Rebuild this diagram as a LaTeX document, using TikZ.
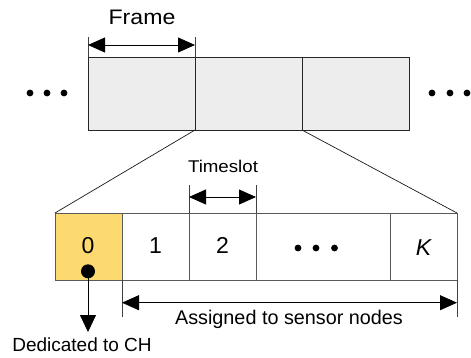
\documentclass[tikz,border=0pt]{standalone}
\usepackage{fontspec}
\setmainfont{Liberation Sans}
\newfontfamily\widesans{Liberation Sans}[FakeStretch=1.1]
\usetikzlibrary{arrows.meta,calc}
\definecolor{framegray}{HTML}{EDEDED}
\definecolor{slotyellow}{HTML}{FDDA70}
\begin{document}
\begin{tikzpicture}[x=1pt,y=-1pt,
  frm/.style={draw=black!85, fill=framegray, line width=0.9pt, minimum width=107pt, minimum height=73pt, inner sep=0pt, outer sep=0pt},
  slot/.style={draw=black!65, line width=0.9pt, minimum height=67pt, inner sep=0pt, outer sep=0pt},
  digit/.style={anchor=base, inner sep=0pt, font=\fontsize{23}{27}\selectfont},
  dimarrow/.style={{Triangle[length=17pt,width=15pt]}-{Triangle[length=17pt,width=15pt]}, line width=0.8pt},
  onearrow/.style={-{Triangle[length=17pt,width=16pt]}, line width=0.8pt},
  ext/.style={line width=0.9pt, draw=black!75},
  zoomline/.style={line width=0.7pt, draw=black!90},
  bigdot/.style={circle, fill=black, inner sep=0pt, minimum size=6.8pt},
  lbl/.style={anchor=base, inner sep=0pt}
]
\useasboundingbox (0,0) rectangle (471,357);

% frames
\node[frm] (f1) at (141.5,93.5) {};
\node[frm] (f2) at (248.5,93.5) {};
\node[frm] (f3) at (356,93.5) {};

% side dots
\node[bigdot] (dl1) at (30,93) {};
\node[bigdot] (dl2) at (47,93) {};
\node[bigdot] (dl3) at (64,93) {};
\node[bigdot] (dr1) at (432,93) {};
\node[bigdot] (dr2) at (450,93) {};
\node[bigdot] (dr3) at (467,93) {};

% frame dimension
\draw[ext] (f1.north west) -- ++(0,-20) coordinate (fe1);
\draw[ext] (f1.north east) -- ++(0,-20) coordinate (fe2);
\coordinate (fa1) at ($(f1.north west)+(0,-12)$);
\coordinate (fa2) at ($(f1.north east)+(0,-12)$);
\draw[dimarrow] (fa1) -- (fa2);
\node[lbl, font=\widesans\fontsize{21}{25}\selectfont] (frametxt) at (142,24) {Frame};

% slots
\node[slot, fill=slotyellow, minimum width=67pt] (s0) at (88.5,246.5) {};
\node[slot, minimum width=67pt] (s1) at (155.5,246.5) {};
\node[slot, minimum width=67pt] (s2) at (222.5,246.5) {};
\node[slot, minimum width=134pt] (s3) at (323,246.5) {};
\node[slot, minimum width=67pt] (sK) at (423.5,246.5) {};
\node[digit] (t0) at (88,253.8) {0};
\node[digit] (t1) at (155.5,253.8) {1};
\node[digit] (t2) at (222.5,253.8) {2};
\node[digit, font=\fontsize{23}{27}\selectfont\itshape] (tK) at (423.5,255.5) {K};
\node[bigdot] (md1) at (298,248) {};
\node[bigdot] (md2) at (316,248) {};
\node[bigdot] (md3) at (334.5,248) {};

% zoom lines
\draw[zoomline] (f1.south east) -- (s0.north west);
\draw[zoomline] (f2.south east) -- (sK.north east);

% timeslot dimension
\draw[ext] (s2.north west) -- ++(0,-28) coordinate (te1);
\draw[ext] (s2.north east) -- ++(0,-28) coordinate (te2);
\coordinate (ta1) at ($(s2.north west)+(0,-16)$);
\coordinate (ta2) at ($(s2.north east)+(0,-16)$);
\draw[dimarrow] (ta1) -- (ta2);
\node[lbl, font=\widesans\fontsize{17}{20}\selectfont] (tstxt) at (223,172.7) {Timeslot};

% assigned dimension
\draw[ext] (s1.south west) -- ++(0,37) coordinate (ae1);
\draw[ext] (sK.south east) -- ++(0,37) coordinate (ae2);
\coordinate (aa1) at ($(s1.south west)+(0,22.7)$);
\coordinate (aa2) at ($(sK.south east)+(0,22.7)$);
\draw[dimarrow] (aa1) -- (aa2);
\node[lbl, font=\fontsize{19.8}{23}\selectfont] (astxt) at (289,324.3) {Assigned to sensor nodes};

% dedicated
\node[circle, fill=black, inner sep=0pt, minimum size=14pt] (chdot) at (88,271.3) {};
\coordinate (chend) at (88,332);
\draw[onearrow] (chdot.center) -- (chend);
\node[lbl, font=\fontsize{19}{23}\selectfont] (chtxt) at (82,351) {Dedicated to CH};
\end{tikzpicture}
\end{document}
